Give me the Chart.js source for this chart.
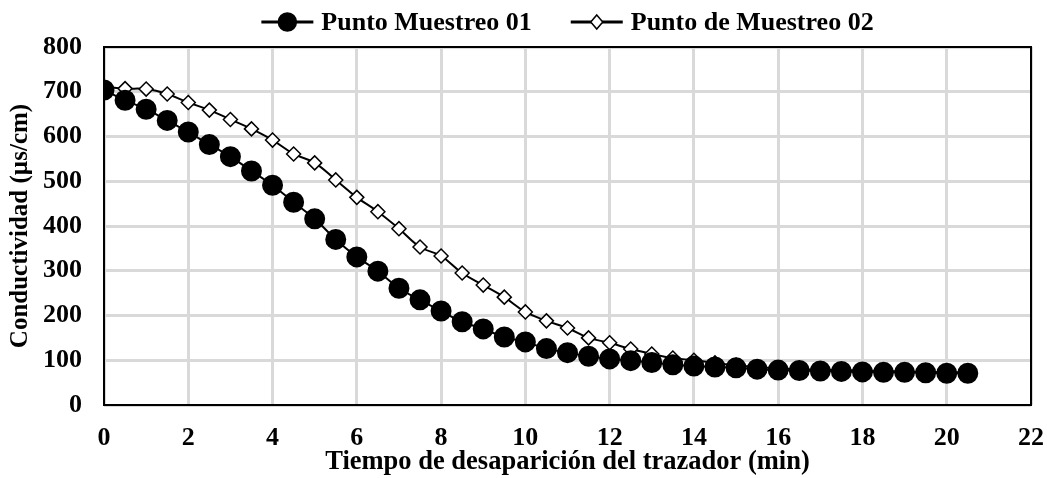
<!DOCTYPE html>
<html>
<head>
<meta charset="utf-8">
<script src="https://cdn.jsdelivr.net/npm/chart.js@4"></script>
<style>
  html, body { margin: 0; padding: 0; background: #fff; }
  #wrap { width: 1047px; height: 478px; }
</style>
</head>
<body>
<div id="wrap"><canvas id="cond"></canvas></div>
<script>
// time (min)
const tiempo = [0, 0.5, 1, 1.5, 2, 2.5, 3, 3.5, 4, 4.5, 5, 5.5, 6, 6.5, 7, 7.5, 8, 8.5, 9, 9.5, 10,
  10.5, 11, 11.5, 12, 12.5, 13, 13.5, 14, 14.5, 15, 15.5, 16, 16.5, 17, 17.5, 18, 18.5, 19, 19.5, 20, 20.5];
const punto01 = [704, 681, 661, 636, 610, 582, 555, 523, 491, 453, 416, 370, 331, 299, 261, 235, 210, 186, 170, 152, 141,
  126, 117, 109, 103, 99, 95, 90, 87, 85, 83, 80, 78, 77, 76, 75, 74, 73, 73, 72, 71, 71];
const punto02 = [711, 707, 706, 695, 676, 659, 638, 617, 592, 561, 541, 503, 464, 432, 394, 353, 333, 295, 268, 241, 208,
  188, 172, 150, 139, 125, 114, 105, 100, 94, 89, 85, 82, 80, 79, 78, 77, 76, 75, 74, 73, 73];
const xTicks = [0, 2, 4, 6, 8, 10, 12, 14, 16, 18, 20, 22];
const yTicks = [0, 100, 200, 300, 400, 500, 600, 700, 800];

const toPts = (xs, ys) => xs.map((x, i) => ({ x: x, y: ys[i] }));
const serif = "'Liberation Serif', 'Times New Roman', serif";

// frame around plot area + legend (line through marker) centred over the plot
const framePlugin = {
  id: 'frame',
  beforeDatasetsDraw(chart) {
    const { ctx, chartArea: a } = chart;
    ctx.save();
    ctx.strokeStyle = '#000';
    ctx.lineWidth = 2;
    ctx.strokeRect(a.left, a.top, a.right - a.left, a.bottom - a.top);
    ctx.restore();
  },
  afterDraw(chart) {
    const { ctx, chartArea: a } = chart;
    const sets = chart.data.datasets;
    const lineW = 52, gap = 8, itemGap = 39, cy = 22;
    ctx.save();
    ctx.font = 'bold 26px ' + serif;
    const widths = sets.map(ds => lineW + gap + ctx.measureText(ds.label).width);
    const total = widths.reduce((s, w) => s + w, 0) + itemGap * (sets.length - 1);
    let x = (a.left + a.right) / 2 - total / 2;
    sets.forEach((ds, i) => {
      const cx = x + lineW / 2;
      ctx.strokeStyle = '#000';
      ctx.lineWidth = 3;
      ctx.beginPath();
      ctx.moveTo(x, cy);
      ctx.lineTo(x + lineW, cy);
      ctx.stroke();
      ctx.lineWidth = 1.5;
      ctx.fillStyle = ds.pointBackgroundColor;
      ctx.beginPath();
      if (ds.pointStyle === 'circle') {
        ctx.arc(cx, cy, 9, 0, Math.PI * 2);
      } else {
        ctx.moveTo(cx, cy - 7); ctx.lineTo(cx + 6, cy); ctx.lineTo(cx, cy + 7); ctx.lineTo(cx - 6, cy); ctx.closePath();
      }
      ctx.fill();
      ctx.stroke();
      ctx.fillStyle = '#000';
      ctx.textBaseline = 'middle';
      ctx.fillText(ds.label, x + lineW + gap, cy + 1);
      x += widths[i] + itemGap;
    });
    ctx.restore();
  }
};

new Chart(document.getElementById('cond'), {
  type: 'line',
  data: {
    datasets: [{
      label: 'Punto Muestreo 01',
      data: toPts(tiempo, punto01),
      borderColor: '#000',
      borderWidth: 2,
      pointStyle: 'circle',
      pointRadius: 9.5,
      pointBackgroundColor: '#000',
      pointBorderColor: '#000',
      tension: 0.4,
      order: 1
    }, {
      label: 'Punto de Muestreo 02',
      data: toPts(tiempo, punto02),
      borderColor: '#000',
      borderWidth: 2,
      pointStyle: 'rectRot',
      pointRadius: 7,
      pointBorderWidth: 1.5,
      pointBackgroundColor: '#fff',
      pointBorderColor: '#000',
      tension: 0.4,
      order: 2
    }]
  },
  options: {
    responsive: true,
    maintainAspectRatio: false,
    animation: false,
    layout: { padding: { top: 47, right: 16, bottom: 0, left: 6 } },
    plugins: {
      legend: { display: false },
      tooltip: { enabled: false }
    },
    scales: {
      x: {
        type: 'linear',
        min: 0,
        max: 22,
        afterBuildTicks(axis) { axis.ticks = xTicks.map(v => ({ value: v })); },
        afterFit(axis) { axis.height = 73; axis.paddingRight = 0; axis.paddingLeft = 0; },
        grid: { color: '#d9d9d9', lineWidth: 3, drawTicks: false },
        border: { display: false },
        ticks: { color: '#000', font: { family: serif, size: 26, weight: 'bold' }, padding: 18 },
        title: {
          display: true,
          text: 'Tiempo de desaparición del trazador (min)',
          color: '#000',
          font: { family: serif, size: 26.5, weight: 'bold' },
          padding: { top: 0, bottom: 0 }
        }
      },
      y: {
        min: 0,
        max: 800,
        afterBuildTicks(axis) { axis.ticks = yTicks.map(v => ({ value: v })); },
        afterFit(axis) { axis.width = 98; },
        grid: { color: '#d9d9d9', lineWidth: 3, drawTicks: false },
        border: { display: false },
        ticks: { color: '#000', font: { family: serif, size: 26, weight: 'bold' }, padding: 22 },
        title: {
          display: true,
          text: 'Conductividad (µs/cm)',
          color: '#000',
          font: { family: serif, size: 25, weight: 'bold' },
          padding: { top: 0, bottom: 0 }
        }
      }
    }
  },
  plugins: [framePlugin]
});
</script>
</body>
</html>
